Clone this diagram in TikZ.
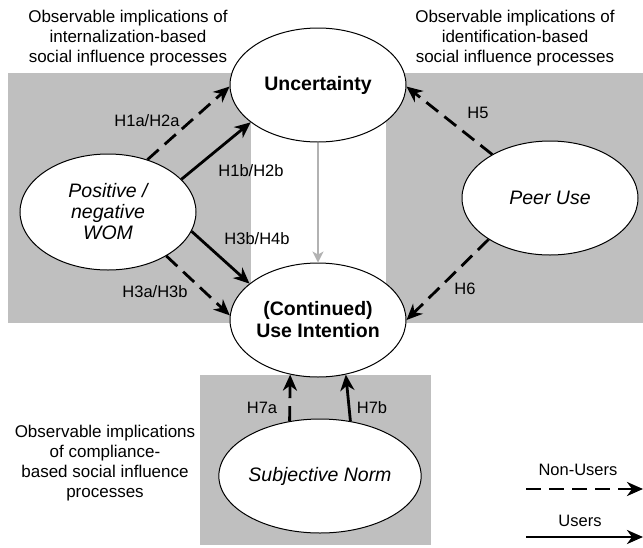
\documentclass[tikz,border=0pt]{standalone}
\usepackage{fontspec}
\setmainfont{Liberation Sans}
\usetikzlibrary{arrows.meta,shapes.geometric}
\begin{document}
\begin{tikzpicture}[x=1pt,y=-1pt,
  ell/.style={ellipse, draw, line width=1pt, fill=white, inner sep=0pt,
    minimum width=176pt, minimum height=114pt, align=center},
  ebf/.style={font=\fontsize{19.5}{22}\selectfont\bfseries},
  eit/.style={font=\fontsize{19.5}{21}\selectfont\itshape},
  conn/.style={line width=2.8pt, -{Stealth[length=16pt,width=14pt,inset=5pt]}},
  dsh/.style={conn, dash pattern=on 15pt off 8pt},
  lab/.style={font=\fontsize{16.5}{19}\selectfont, inner sep=0pt},
  obs/.style={font=\fontsize{17}{20}\selectfont, align=center, inner sep=0pt},
  bg/.style={fill=black!25, draw=none}]
\useasboundingbox (0,0) rectangle (643,547);
% background regions
\fill[bg] (8,73) rectangle (251,323);
\fill[bg] (386,73) rectangle (643,323);
\fill[bg] (200,375) rectangle (431,545);
% region captions
\node[obs] (tl) at (128,38) {Observable implications of\\internalization-based\\social influence processes};
\node[obs] (tr) at (515,38) {Observable implications of\\identification-based\\social influence processes};
\node[obs] (bl) at (105,463) {Observable implications\\of compliance-\\based social influence\\processes};
% construct nodes
\node[ell, ebf] (unc) at (318,85) {Uncertainty};
\node[ell, ebf] (cont) at (318,320) {(Continued)\\Use Intention};
\node[ell, eit, minimum height=116pt] (wom) at (108,212) {Positive /\\negative\\WOM};
\node[ell, eit] (peer) at (550,198) {Peer Use};
\node[ell, eit, minimum width=180pt] (subj) at (320,476) {Subjective Norm};
% connectors
\draw[dsh] (wom.53) -- (unc.181);
\draw[conn] (wom.24) -- (unc.209);
\draw[conn] (wom.-13) -- (cont.152);
\draw[dsh] (wom.-37) -- (cont.177);
\draw[dsh] (peer.143) -- (unc.-1);
\draw[dsh] (peer.214) -- (cont.0);
\draw[dsh] (subj.119) -- (cont.243);
\draw[conn] (subj.61) -- (cont.297);
\draw[draw=black!30, line width=1.4pt, -{Stealth[length=11pt,width=11pt,inset=3pt]}] (unc.south) -- (cont.north);
% connector labels
\node[lab] (l1) at (147,121) {H1a/H2a};
\node[lab] (l2) at (251,171) {H1b/H2b};
\node[lab] (l3) at (257,239) {H3b/H4b};
\node[lab] (l4) at (155,292) {H3a/H3b};
\node[lab] (l5) at (478,113) {H5};
\node[lab] (l6) at (465,289) {H6};
\node[lab] (l7) at (262,408) {H7a};
\node[lab] (l8) at (372,408) {H7b};
% legend
\node[lab] (nu) at (578,470) {Non-Users};
\coordinate (nua) at (526,489);
\coordinate (nub) at (643,489);
\draw[dsh] (nua) -- (nub);
\node[lab] (us) at (580,521) {Users};
\coordinate (usa) at (526,537);
\coordinate (usb) at (643,537);
\draw[conn] (usa) -- (usb);
\end{tikzpicture}
\end{document}
